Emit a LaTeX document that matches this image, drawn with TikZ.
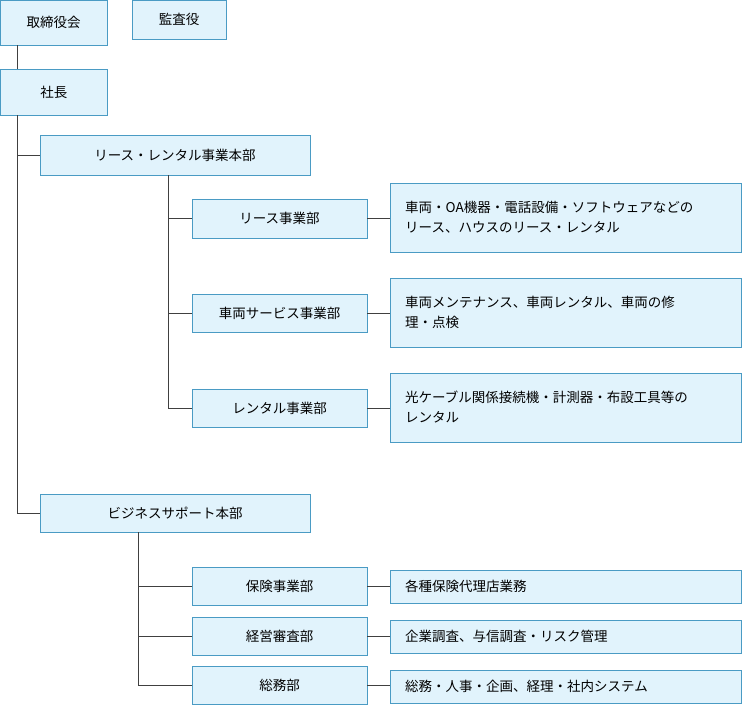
\documentclass[tikz,border=0pt]{standalone}
\usepackage{fontspec}
\setmainfont{Noto Sans CJK JP}
\begin{document}
\begin{tikzpicture}[x=1pt,y=-1pt,
  bx/.style={draw=boxline,fill=boxfill,line width=0.8pt,font=\fontsize{13.5}{17}\selectfont,inner sep=0pt},
  ln/.style={draw=black!75,line width=0.8pt}]
\definecolor{boxfill}{HTML}{E1F3FC}
\definecolor{boxline}{HTML}{4A9BC4}
\useasboundingbox (0,0) rectangle (742,705);
\newcommand\bxat[6]{\node[bx,minimum width=#4-#2,minimum height=#5-#3] (#1) at ({(#2+#4)/2},{(#3+#5)/2}) {#6};}
\newcommand\dsat[6]{\node[bx,minimum width=#4-#2,minimum height=#5-#3] (#1) at ({(#2+#4)/2},{(#3+#5)/2}) {};
  \node[font=\fontsize{13.5}{20}\selectfont,anchor=west,align=left,inner sep=0pt] (#1t) at (405,{(#3+#5)/2}) {#6};}
\coordinate (ta) at (17,0);
\coordinate (tb) at (168,0);
\coordinate (tc) at (138,0);
\bxat{bod}{0.5}{0.5}{107}{45}{取締役会}
\bxat{aud}{132}{0.5}{226}{39}{監査役}
\bxat{pres}{0.5}{69}{107}{115}{社長}
\bxat{lr}{40}{135}{310}{175}{リース・レンタル事業本部}
\bxat{l1}{192}{199}{367}{238}{リース事業部}
\bxat{l2}{192}{294}{367}{332}{車両サービス事業部}
\bxat{l3}{192}{389}{367}{427}{レンタル事業部}
\dsat{d1}{390}{183}{741}{252}{車両・OA機器・電話設備・ソフトウェアなどの\\リース、ハウスのリース・レンタル}
\dsat{d2}{390}{278}{741}{347}{車両メンテナンス、車両レンタル、車両の修\\理・点検}
\dsat{d3}{390}{373}{741}{442}{光ケーブル関係接続機・計測器・布設工具等の\\レンタル}
\bxat{bs}{40}{494}{310}{532}{ビジネスサポート本部}
\bxat{b1}{192}{567}{367}{605}{保険事業部}
\bxat{b2}{192}{617}{367}{655}{経営審査部}
\bxat{b3}{192}{666}{367}{704}{総務部}
\dsat{e1}{390}{570}{741}{603}{各種保険代理店業務}
\dsat{e2}{390}{620}{741}{653}{企業調査、与信調査・リスク管理}
\dsat{e3}{390}{670}{741}{703}{総務・人事・企画、経理・社内システム}
\draw[ln] (bod.south -| ta) -- (pres.north -| ta);
\draw[ln] (pres.south -| ta) |- (bs.west);
\draw[ln] (lr.west -| ta) -- (lr.west);
\draw[ln] (lr.south -| tb) |- (l3.west);
\draw[ln] (l1.west -| tb) -- (l1.west);
\draw[ln] (l2.west -| tb) -- (l2.west);
\draw[ln] (bs.south -| tc) |- (b3.west);
\draw[ln] (b1.west -| tc) -- (b1.west);
\draw[ln] (b2.west -| tc) -- (b2.west);
\foreach \a/\b in {l1/d1,l2/d2,l3/d3,b1/e1,b2/e2,b3/e3} \draw[ln] (\a.east) -- (\a.east -| \b.west);
\end{tikzpicture}
\end{document}
